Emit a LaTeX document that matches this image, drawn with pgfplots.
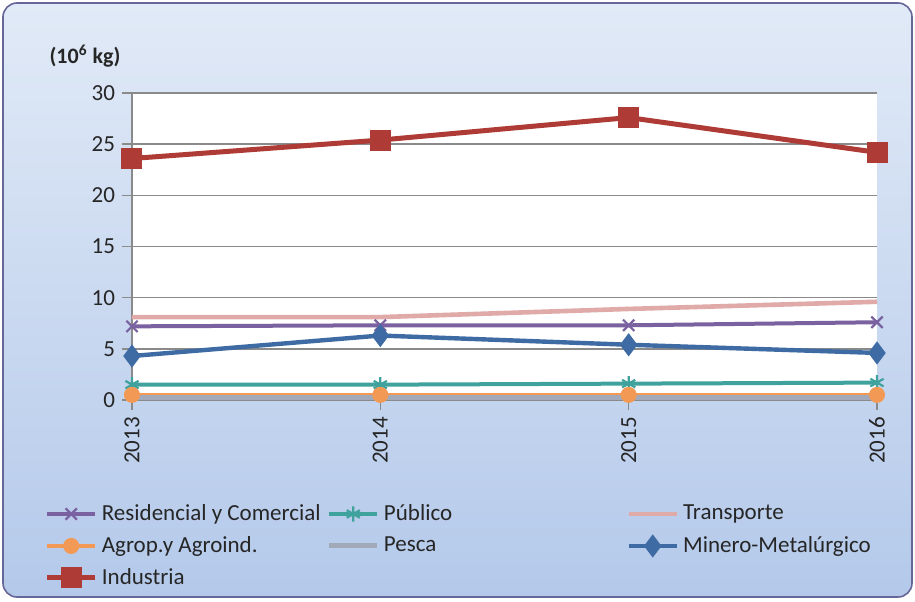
\documentclass[border=0pt]{standalone}
\usepackage{pgfplots}
\pgfplotsset{compat=1.18}
\usepackage{fontspec}
\setmainfont{Carlito}
\definecolor{cRes}{HTML}{7A62A0}
\definecolor{cPub}{HTML}{3FA29C}
\definecolor{cTra}{HTML}{DFAAA8}
\definecolor{cAgr}{HTML}{F29A55}
\definecolor{cPes}{HTML}{A2AAB9}
\definecolor{cMin}{HTML}{3E6BA3}
\definecolor{cInd}{HTML}{AE3B35}
\definecolor{bgTop}{HTML}{E1EAF7}
\definecolor{bgBot}{HTML}{B4C9EA}
\definecolor{gridc}{HTML}{8A8A8A}
\begin{document}
\begin{tikzpicture}[font=\fontsize{11.5}{13}\selectfont]
\useasboundingbox (-66pt,-100.5pt) rectangle (391.5pt,200pt);
\draw[rounded corners=7pt, draw=gray!80!blue, line width=0.8pt, top color=bgTop, bottom color=bgBot] (-64.5pt,-98.5pt) rectangle (390pt,198.5pt);
\begin{axis}[
  at={(0,0)}, anchor=south west,
  scale only axis, width=372.5pt, height=153.5pt,
  xmin=0, xmax=3, ymin=0, ymax=30,
  xtick={0,1,2,3}, xticklabels={2013,2014,2015,2016},
  ytick={0,5,...,30},
  ymajorgrids, grid style={gridc, line width=0.7pt},
  axis background/.style={fill=white},
  axis x line*=bottom, axis y line*=left,
  axis line style={gridc, line width=0.7pt},
  tick style={gridc, line width=0.7pt},
  tick align=outside, major tick length=5pt,
  x tick label style={rotate=90, anchor=east},
  /pgf/number format/assume math mode=true,
  tick label style={font=\fontsize{11.5}{13}\selectfont, text=black!85},
  clip=false,
  legend columns=3,
  legend style={at={(-0.126,-0.313)}, anchor=north west, draw=none, fill=none,
    font=\fontsize{11.5}{13}\selectfont, text=black!85,
    /tikz/column 2/.style={column sep=1pt},
    /tikz/column 4/.style={column sep=85pt},
    /tikz/row sep=2.5pt},
  legend cell align=left,
  legend image code/.code={\draw[mark repeat=2,mark phase=2] plot coordinates {(0cm,0cm)(0.425cm,0cm)(0.85cm,0cm)};},
]
\addplot[cRes, line width=2pt, mark=x, mark size=4pt, mark options={line width=1.1pt}] coordinates {(0,7.2)(1,7.3)(2,7.3)(3,7.6)};
\addlegendentry{Residencial y Comercial}
\addplot[cPub, line width=2pt, mark=asterisk, mark size=3.8pt, mark options={line width=1.1pt}] coordinates {(0,1.5)(1,1.5)(2,1.6)(3,1.7)};
\addlegendentry{Público}
\addplot[cTra, line width=2.3pt] coordinates {(0,8.1)(1,8.1)(2,8.9)(3,9.6)};
\addlegendentry{Transporte}
\addplot[cAgr, line width=2pt, mark=*, mark size=3pt] coordinates {(0,0.5)(1,0.5)(2,0.5)(3,0.5)};
\addlegendentry{Agrop.y Agroind.}
\addplot[cPes, line width=2.5pt] coordinates {(0,0.25)(1,0.25)(2,0.25)(3,0.25)};
\addlegendentry{Pesca}
\addplot[cMin, line width=2.2pt, mark=diamond*, mark size=4pt] coordinates {(0,4.3)(1,6.3)(2,5.4)(3,4.6)};
\addlegendentry{Minero-Metalúrgico}
\addplot[cInd, line width=2.5pt, mark=square*, mark size=4pt] coordinates {(0,23.6)(1,25.4)(2,27.6)(3,24.2)};
\addlegendentry{Industria}
\end{axis}
\node[font=\bfseries\fontsize{11}{13}\selectfont, text=black!85] at (-23.5pt,172pt) {(10\textsuperscript{6} kg)};
\end{tikzpicture}
\end{document}
